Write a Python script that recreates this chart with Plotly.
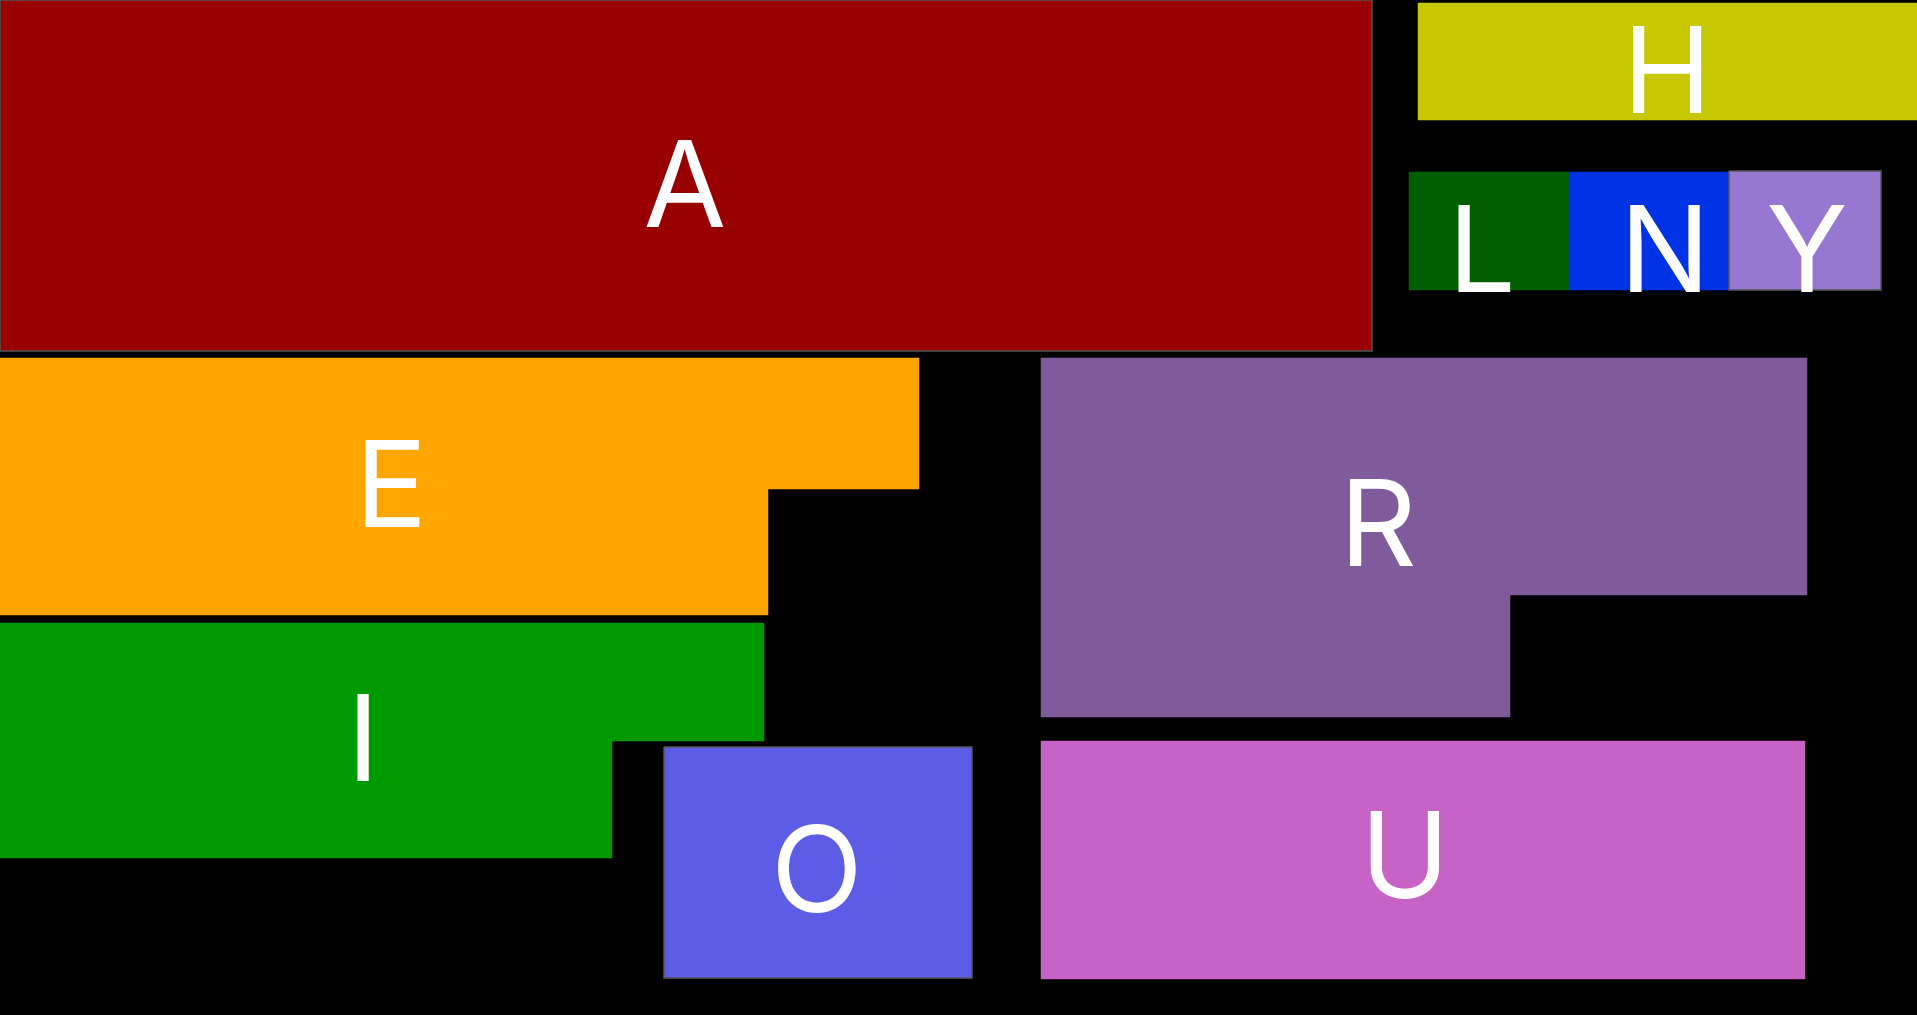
import plotly.graph_objects as go

# Letter regions (polygon outlines, in layout units: x to the right, y downward)
letters = ["A", "H", "L", "N", "Y", "E", "I", "O", "R", "U"]
shape_x = {
    "A": [0, 1372, 1372, 0],
    "H": [1418, 1917, 1917, 1418],
    "L": [1409, 1569, 1569, 1409],
    "N": [1569, 1735, 1735, 1569],
    "Y": [1729, 1881, 1881, 1729],
    "E": [0, 919, 919, 768, 768, 0],
    "I": [0, 764, 764, 612, 612, 0],
    "O": [664, 972, 972, 664],
    "R": [1041, 1807, 1807, 1510, 1510, 1041],
    "U": [1041, 1805, 1805, 1041],
}
shape_y = {
    "A": [0, 0, 351, 351],
    "H": [3, 3, 120, 120],
    "L": [172, 172, 290, 290],
    "N": [172, 172, 290, 290],
    "Y": [171, 171, 290, 290],
    "E": [358, 358, 489, 489, 615, 615],
    "I": [623, 623, 741, 741, 858, 858],
    "O": [747, 747, 978, 978],
    "R": [358, 358, 595, 595, 717, 717],
    "U": [741, 741, 979, 979],
}
colors = {
    "A": "#990000",
    "H": "#c8c800",
    "L": "#006000",
    "N": "#0032e6",
    "Y": "#9678d3",
    "E": "#ffa500",
    "I": "#009900",
    "O": "#5c5ce6",
    "R": "#805b9b",
    "U": "#c763c6",
}
outlined = ["A", "Y", "O"]
label_x = [685, 1667, 1482, 1665, 1807, 391, 363, 817, 1378, 1405]
label_y = [197, 83, 262, 262, 262, 497, 751, 882, 536, 868]

fig = go.Figure()
for k in letters:
    xs = shape_x[k] + [shape_x[k][0]]
    ys = shape_y[k] + [shape_y[k][0]]
    has_line = k in outlined
    fig.add_trace(go.Scatter(
        x=xs, y=ys, mode="lines", fill="toself",
        fillcolor=colors[k],
        line=dict(color="#555555" if has_line else colors[k], width=1.5 if has_line else 0.5),
        hoverinfo="skip", showlegend=False,
    ))

fig.add_trace(go.Scatter(
    x=label_x, y=label_y, mode="text", text=letters,
    textposition="middle center",
    textfont=dict(family="Inter", size=120, color="white"),
    hoverinfo="skip", showlegend=False,
))

fig.update_layout(
    width=1917, height=1015,
    margin=dict(l=0, r=0, t=0, b=0),
    paper_bgcolor="black", plot_bgcolor="black",
    xaxis=dict(range=[0, 1917], visible=False, fixedrange=True),
    yaxis=dict(range=[1015, 0], visible=False, fixedrange=True),
)

fig.write_html(
    "out.html",
    config={"displayModeBar": False},
    post_script="document.body.style.margin='0';document.body.style.overflow='hidden';document.documentElement.style.background='black';",
)
